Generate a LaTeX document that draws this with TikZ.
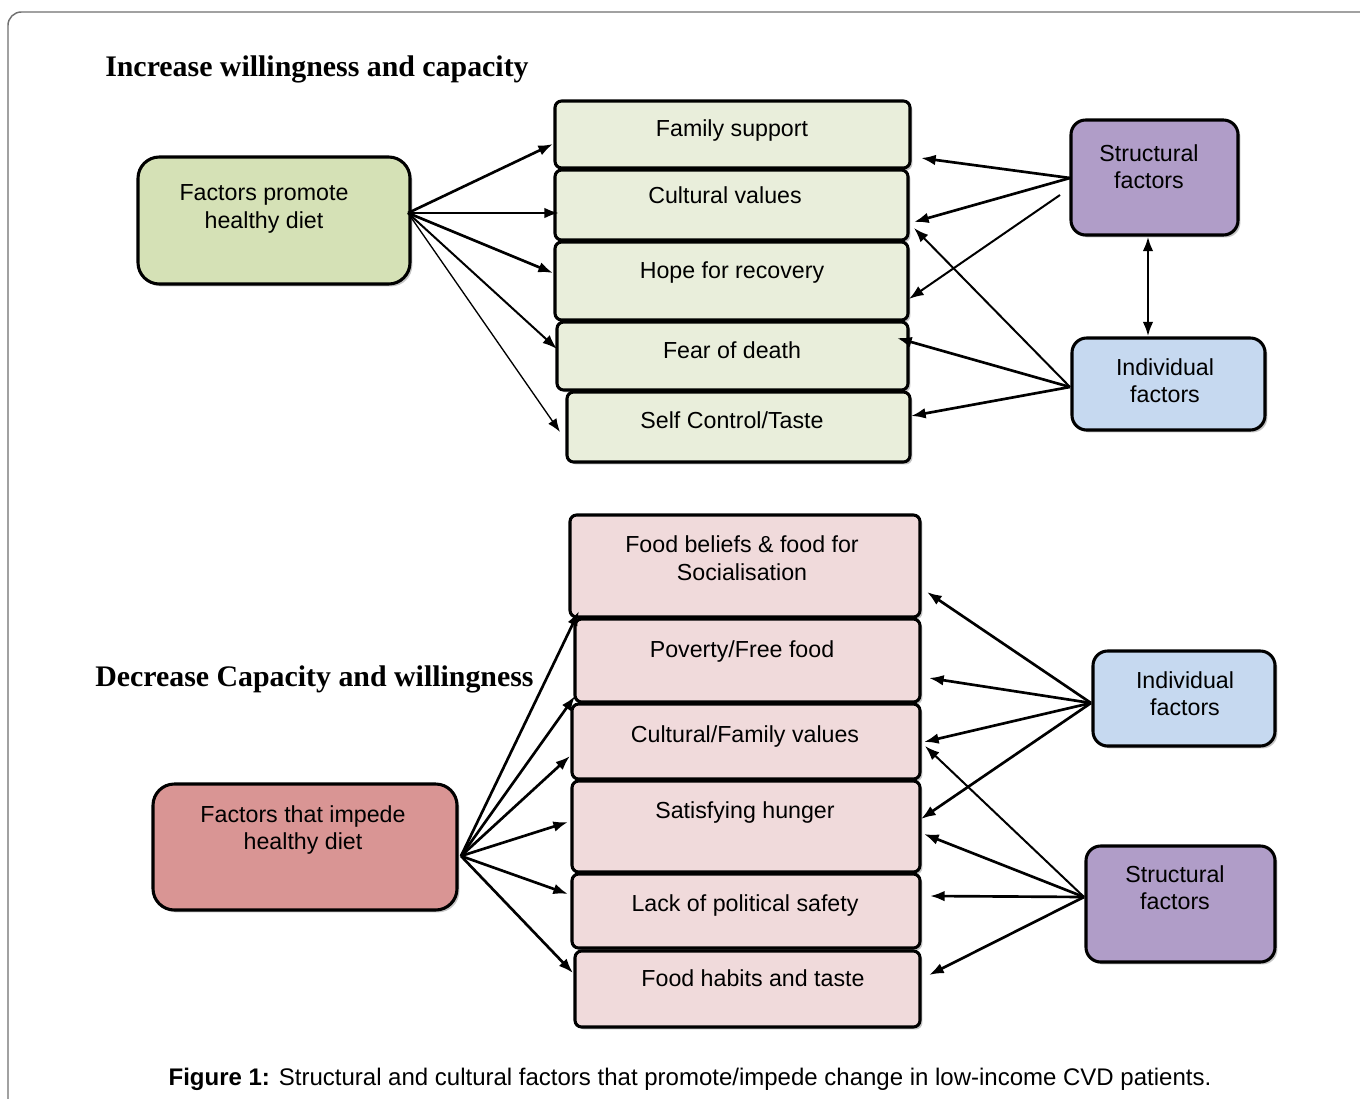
\documentclass[tikz,border=0pt]{standalone}
\usepackage{fontspec}
\setmainfont{Liberation Sans}
\newfontfamily\titlefont{Liberation Serif}
\usetikzlibrary{arrows.meta,fit,shadows}
\definecolor{cFP}{HTML}{D5E1B6}
\definecolor{cG}{HTML}{E9EEDB}
\definecolor{cST}{HTML}{B09DC8}
\definecolor{cIN}{HTML}{C6D9F0}
\definecolor{cFI}{HTML}{D99594}
\definecolor{cP}{HTML}{F0DADB}
\definecolor{cFrame}{HTML}{707070}
\begin{document}
\begin{tikzpicture}[x=0.75pt,y=-0.75pt,
  box/.style={draw=black, line width=2.3pt, inner sep=0pt,
    drop shadow={shadow xshift=1.8pt, shadow yshift=-1.8pt, fill=black!50, opacity=0.45}},
  bigbox/.style={box, rounded corners=16pt},
  sidebox/.style={box, rounded corners=11pt},
  stackbox/.style={box, rounded corners=5pt},
  txt/.style={anchor=base, inner sep=0pt, font=\fontsize{17.4}{21}\selectfont},
  ttl/.style={anchor=base west, inner sep=0pt, font=\titlefont\bfseries\fontsize{22.4}{26}\selectfont},
  conn/.style={line width=2pt, -{Latex[length=11pt,width=8pt]}},
  lconn/.style={line width=1.5pt, -{Latex[length=11pt,width=8pt]}},
  thinconn/.style={line width=1pt, -{Latex[length=10pt,width=7.5pt]}},
  dconn/.style={line width=2pt, {Latex[length=11pt,width=8pt]}-{Latex[length=11pt,width=8pt]}}
]
\useasboundingbox (0,0) rectangle (1360,1099);
\fill[white] (0,0) rectangle (1360,1099);
% outer frame
\draw[cFrame, line width=1.1pt, rounded corners=10pt] (1370,12) -- (8,12) -- (8,1110);

% ---------- titles ----------
\node[ttl] (title1) at (105,77) {Increase willingness and capacity};
\node[ttl] (title2) at (95,686) {Decrease Capacity and willingness};

% ---------- top section ----------
\node[bigbox, fill=cFP, fit={(138,157)(410,284)}] (fp) {};
\node[txt] (fpt1) at (264,200) {Factors promote};
\node[txt] (fpt2) at (264,228) {healthy diet};

\node[stackbox, fill=cG, fit={(555,101)(910,168)}] (g1) {};
\node[stackbox, fill=cG, fit={(555,170)(908,240)}] (g2) {};
\node[stackbox, fill=cG, fit={(555,242)(908,320)}] (g3) {};
\node[stackbox, fill=cG, fit={(557,322)(908,390)}] (g4) {};
\node[stackbox, fill=cG, fit={(567,392)(910,462)}] (g5) {};
\node[txt] (g1t) at (732,136) {Family support};
\node[txt] (g2t) at (725,203) {Cultural values};
\node[txt] (g3t) at (732,278) {Hope for recovery};
\node[txt] (g4t) at (732,358) {Fear of death};
\node[txt] (g5t) at (732,428) {Self Control/Taste};

\node[sidebox, fill=cST, fit={(1071,120)(1238,235)}] (st1) {};
\node[txt] (st1t1) at (1149,161) {Structural};
\node[txt] (st1t2) at (1149,188) {factors};
\node[sidebox, fill=cIN, fit={(1072,338)(1265,430)}] (in1) {};
\node[txt] (in1t1) at (1165,375) {Individual};
\node[txt] (in1t2) at (1165,402) {factors};

% top connectors
\coordinate (fpS) at (408,213);
\coordinate (a1) at (553,144);
\coordinate (a2) at (559,213);
\coordinate (a3) at (553,273);
\coordinate (a4) at (557,349);
\coordinate (a5) at (560,432);
\draw[conn] (fpS) -- (a1);
\draw[conn] (fpS) -- (a2);
\draw[conn] (fpS) -- (a3);
\draw[lconn] (fpS) -- (a4);
\draw[thinconn] (fpS) -- (a5);

\coordinate (stS) at (1070,178);
\coordinate (stS2) at (1060,195);
\coordinate (b1) at (921,158);
\coordinate (b2) at (914,222);
\coordinate (b3) at (909,299);
\draw[conn] (stS) -- (b1);
\draw[conn] (stS) -- (b2);
\draw[lconn] (stS2) -- (b3);

\coordinate (inS) at (1070,387);
\coordinate (c1) at (914,228);
\coordinate (c2) at (897,338);
\coordinate (c3) at (911,416);
\draw[lconn] (inS) -- (c1);
\draw[conn] (inS) -- (c2);
\draw[conn] (inS) -- (c3);

\draw[dconn] (st1.south -| 1148,0) -- (in1.north -| 1148,0);

% ---------- bottom section ----------
\node[bigbox, fill=cFI, fit={(153,784)(457,910)}] (fi) {};
\node[txt] (fit1) at (303,822) {Factors that impede};
\node[txt] (fit2) at (303,849) {healthy diet};

\node[stackbox, fill=cP, fit={(570,515)(920,617)}] (p1) {};
\node[stackbox, fill=cP, fit={(575,619)(920,702)}] (p2) {};
\node[stackbox, fill=cP, fit={(572,704)(920,779)}] (p3) {};
\node[stackbox, fill=cP, fit={(572,781)(920,872)}] (p4) {};
\node[stackbox, fill=cP, fit={(572,874)(920,948)}] (p5) {};
\node[stackbox, fill=cP, fit={(575,951)(920,1027)}] (p6) {};
\node[txt] (p1t1) at (742,552) {Food beliefs \& food for};
\node[txt] (p1t2) at (742,580) {Socialisation};
\node[txt] (p2t) at (742,657) {Poverty/Free food};
\node[txt] (p3t) at (745,742) {Cultural/Family values};
\node[txt] (p4t) at (745,818) {Satisfying hunger};
\node[txt] (p5t) at (745,911) {Lack of political safety};
\node[txt] (p6t) at (753,986) {Food habits and taste};

\node[sidebox, fill=cIN, fit={(1093,651)(1275,746)}] (in2) {};
\node[txt] (in2t1) at (1185,688) {Individual};
\node[txt] (in2t2) at (1185,715) {factors};
\node[sidebox, fill=cST, fit={(1086,846)(1275,962)}] (st2) {};
\node[txt] (st2t1) at (1175,882) {Structural};
\node[txt] (st2t2) at (1175,909) {factors};

% bottom connectors
\coordinate (fiS) at (461,856);
\coordinate (d1) at (579,611);
\coordinate (d2) at (575,696);
\coordinate (d3) at (570,756);
\coordinate (d4) at (568,822);
\coordinate (d5) at (568,894);
\coordinate (d6) at (573,973);
\draw[conn] (fiS) -- (d1);
\draw[conn] (fiS) -- (d2);
\draw[conn] (fiS) -- (d3);
\draw[conn] (fiS) -- (d4);
\draw[conn] (fiS) -- (d5);
\draw[conn] (fiS) -- (d6);

\coordinate (in2S) at (1091,703);
\coordinate (e1) at (927,592);
\coordinate (e2) at (929,678);
\coordinate (e3) at (924,742);
\coordinate (e4) at (921,819);
\draw[conn] (in2S) -- (e1);
\draw[conn] (in2S) -- (e2);
\draw[conn] (in2S) -- (e3);
\draw[conn] (in2S) -- (e4);

\coordinate (st2S) at (1084,897);
\coordinate (f1) at (925,746);
\coordinate (f2) at (924,834);
\coordinate (f3) at (930,896);
\coordinate (f4) at (929,975);
\draw[lconn] (st2S) -- (f1);
\draw[conn] (st2S) -- (f2);
\draw[conn] (st2S) -- (f3);
\draw[conn] (st2S) -- (f4);

% ---------- caption ----------
\node[anchor=base, inner sep=0pt, font=\fontsize{18}{22}\selectfont] (cap) at (690,1085)
  {\textbf{Figure 1:} Structural and cultural factors that promote/impede change in low-income CVD patients.};
\end{tikzpicture}
\end{document}
